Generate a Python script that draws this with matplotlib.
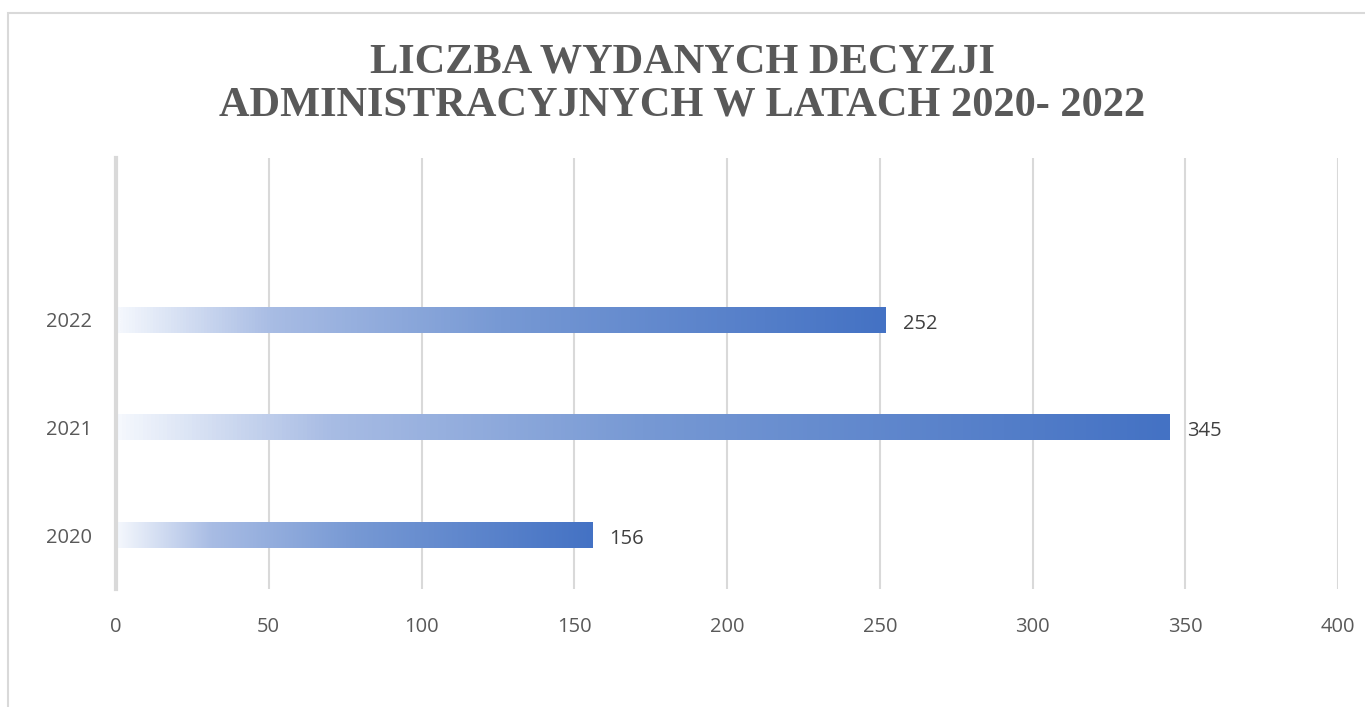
import numpy as np
import matplotlib
matplotlib.use("Agg")
from matplotlib import pyplot as plt
from matplotlib.colors import LinearSegmentedColormap
from matplotlib.patches import Rectangle

years = ["2020", "2021", "2022"]
decisions = [156, 345, 252]
xticks = [0, 50, 100, 150, 200, 250, 300, 350, 400]
title = "LICZBA WYDANYCH DECYZJI\nADMINISTRACYJNYCH W LATACH 2020- 2022"

W, H = 1365, 707
fig = plt.figure(figsize=(W / 100, H / 100), dpi=100)

# chart area border (cut off at right and bottom like the source)
fig.patches.append(Rectangle((8 / W, -0.1), 1.2, 1 - 13 / H + 0.1,
                             transform=fig.transFigure, fill=False,
                             edgecolor="#D9D9D9", linewidth=1.5))

ax = fig.add_axes([116 / W, 1 - 589 / H, (1338 - 116) / W, (589 - 158) / H])

cmap = LinearSegmentedColormap.from_list(
    "grad", [(0.0, "#F5F8FD"), (0.2, "#A8BCE4"), (0.5, "#7799D4"), (1.0, "#4472C4")])
grad = np.linspace(0, 1, 256).reshape(1, -1)
bar_h = 0.24

for i, v in enumerate(decisions):
    ax.imshow(grad, cmap=cmap, extent=(0, v, i - bar_h / 2, i + bar_h / 2),
              aspect="auto", interpolation="bilinear", zorder=2)
    ax.annotate(str(v), (v, i), xytext=(12, -1), textcoords="offset points",
                va="center_baseline", ha="left", fontsize=14.5, color="#404040",
                family="Open Sans")

ax.set_xlim(0, 400)
ax.set_ylim(-0.5, 3.5)
ax.set_xticks(xticks)
ax.set_xticklabels([str(t) for t in xticks])
ax.set_yticks(range(len(years)))
ax.set_yticklabels(years)
ax.grid(axis="x", color="#D9D9D9", linewidth=1.5, zorder=1)
ax.set_axisbelow(True)
for s in ["top", "right", "bottom"]:
    ax.spines[s].set_visible(False)
ax.spines["left"].set_color("#D9D9D9")
ax.spines["left"].set_linewidth(3)
ax.tick_params(length=0, labelsize=14.5, labelcolor="#595959")
ax.tick_params(axis="x", pad=20)
ax.tick_params(axis="y", pad=17)
for lab in ax.get_xticklabels() + ax.get_yticklabels():
    lab.set_family("Open Sans")

fig.text(0.5, 1 - 84 / H, title, ha="center", va="center",
         fontsize=30.5, fontweight="bold", color="#595959",
         family="Liberation Serif", linespacing=1.15)

fig.savefig("out.png", dpi=100, facecolor="white")
